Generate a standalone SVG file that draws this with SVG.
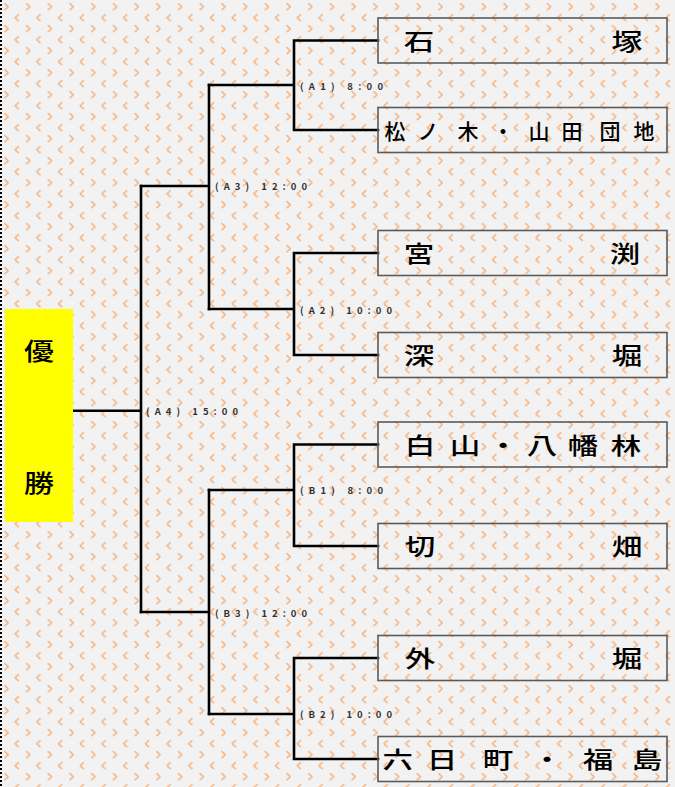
<svg xmlns="http://www.w3.org/2000/svg" width="675" height="787" viewBox="0 0 675 787">
<defs>
<pattern id="bg" x="0" y="0" width="21.7" height="22" patternUnits="userSpaceOnUse">
<rect width="21.7" height="22" fill="#f2f2f2"/>
<polyline points="5,3.7 8.2,6.7 5,9.7" fill="none" stroke="#f6b888" stroke-width="1.7" stroke-linecap="round" stroke-linejoin="round" stroke-dasharray="1.6 1"/>
<polyline points="18.3,14.7 15.1,17.7 18.3,20.7" fill="none" stroke="#f6b888" stroke-width="1.7" stroke-linecap="round" stroke-linejoin="round" stroke-dasharray="1.6 1"/>
</pattern>
<style>
.ln{fill:none;stroke:#000;stroke-width:2.6;stroke-linecap:square}
.box{fill:none;stroke:#5a5a5a;stroke-width:1.6}
.nm{font-family:"Noto Sans CJK JP","Noto Sans CJK SC",sans-serif;font-weight:500;font-size:23px;fill:#000;text-anchor:middle}
.nm2{font-family:"Noto Sans CJK JP","Noto Sans CJK SC",sans-serif;font-weight:500;font-size:21px;fill:#000;text-anchor:middle}
.win{font-family:"Noto Sans CJK JP","Noto Sans CJK SC",sans-serif;font-weight:500;font-size:24px;fill:#000;text-anchor:middle}
.lb{font-family:"Noto Sans CJK JP","Noto Sans CJK SC",sans-serif;font-weight:700;font-size:9.5px;fill:#333}
</style>
</defs>
<rect width="675" height="787" fill="url(#bg)"/>
<line x1="1" y1="0" x2="1" y2="787" stroke="#000" stroke-width="2" stroke-dasharray="2 2"/>

<g id="connectors">
<path class="ln" d="M73,410.7 H141 M141,186 V612"/>
<path class="ln" d="M141,186 H209 M209,85 V309"/>
<path class="ln" d="M209,85 H294 M294,40.5 V130 M294,40.5 H378 M294,130 H378"/>
<path class="ln" d="M209,309 H294 M294,253 V355 M294,253 H378 M294,355 H378"/>
<path class="ln" d="M141,612 H209 M209,490 V714"/>
<path class="ln" d="M209,490 H294 M294,444.5 V546 M294,444.5 H378 M294,546 H378"/>
<path class="ln" d="M209,714 H294 M294,658 V759 M294,658 H378 M294,759 H378"/>
</g>

<g id="labels">
<text class="lb" x="300" y="89.5" textLength="83" lengthAdjust="spacing">(A1) 8:00</text>
<text class="lb" x="215" y="189.5" textLength="92" lengthAdjust="spacing">(A3) 12:00</text>
<text class="lb" x="300" y="313.5" textLength="92" lengthAdjust="spacing">(A2) 10:00</text>
<text class="lb" x="146" y="414.5" textLength="92" lengthAdjust="spacing">(A4) 15:00</text>
<text class="lb" x="300" y="493.5" textLength="83" lengthAdjust="spacing">(B1) 8:00</text>
<text class="lb" x="215" y="616.5" textLength="92" lengthAdjust="spacing">(B3) 12:00</text>
<text class="lb" x="300" y="717.5" textLength="92" lengthAdjust="spacing">(B2) 10:00</text>
</g>

<g id="winner">
<rect x="5" y="309" width="68" height="213" fill="#ffff00"/>
<g transform="scale(1.25 1)">
<text class="win" x="31.2" y="359.8">優</text>
<text class="win" x="31.2" y="492.4">勝</text>
</g>
</g>

<g id="team1">
<rect class="box" x="378" y="18" width="289" height="45"/>
<text class="nm" transform="scale(1.33 1)" x="315 471.4" y="50">石塚</text>
</g>
<g id="team2">
<rect class="box" x="378" y="107.5" width="289" height="45"/>
<text class="nm2" x="395 428 468 503 539 572 610 644" y="138.5">松ノ木・山田団地</text>
</g>
<g id="team3">
<rect class="box" x="378" y="230.5" width="289" height="45"/>
<text class="nm" transform="scale(1.33 1)" x="315 469.9" y="262.5">宮渕</text>
</g>
<g id="team4">
<rect class="box" x="378" y="332.5" width="289" height="45"/>
<text class="nm" transform="scale(1.33 1)" x="315 471.4" y="364.5">深堀</text>
</g>
<g id="team5">
<rect class="box" x="378" y="422" width="289" height="45"/>
<text class="nm" transform="scale(1.33 1)" x="315.8 349.6 378.2 407.5 438.3 470.7" y="454">白山・八幡林</text>
</g>
<g id="team6">
<rect class="box" x="378" y="523.5" width="289" height="45"/>
<text class="nm" transform="scale(1.33 1)" x="315.8 471.4" y="555.5">切畑</text>
</g>
<g id="team7">
<rect class="box" x="378" y="635.5" width="289" height="45"/>
<text class="nm" transform="scale(1.33 1)" x="315.8 471.4" y="667.5">外堀</text>
</g>
<g id="team8">
<rect class="box" x="378" y="736.5" width="289" height="45"/>
<text class="nm" transform="scale(1.33 1)" x="299.2 332.3 374.4 411.3 449.6 486.5" y="768.5">六日町・福島</text>
</g>
</svg>
